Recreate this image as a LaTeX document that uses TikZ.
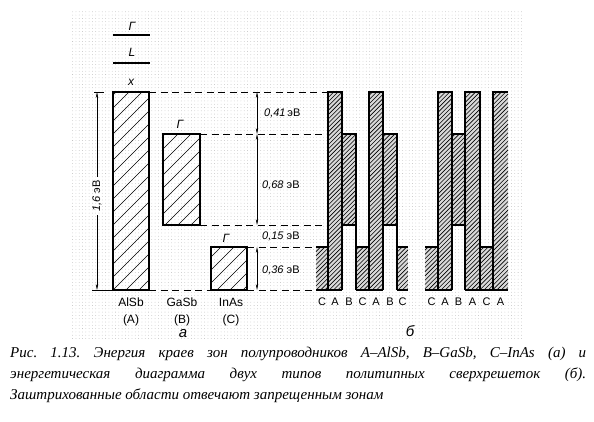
\documentclass[tikz,border=0pt]{standalone}
\usepackage{fontspec}
\setmainfont{Liberation Serif}
\setsansfont{Liberation Sans}
\usetikzlibrary{arrows.meta,patterns.meta}

% hatch a box {x1}{x2}{ytop}{ybottom}{step} with 45 degree strokes
\newcommand\hatchbox[5]{%
  \pgfmathsetmacro\hcs{ceil((#1+#3)/#5)*#5}%
  \pgfmathsetmacro\hcn{\hcs+#5}%
  \pgfmathsetmacro\hce{#2+#4}%
  \foreach \c in {\hcs,\hcn,...,\hce} {%
    \pgfmathsetmacro\hxa{max(#1,\c-#4)}%
    \pgfmathsetmacro\hxb{min(#2,\c-#3)}%
    \draw[hl] (\hxa,{\c-\hxa}) -- (\hxb,{\c-\hxb});
  }}

\begin{document}
\begin{tikzpicture}[x=1pt,y=-1pt,
    bar/.style={line width=1.5pt},
    hl/.style={line width=0.6pt},
    lv/.style={line width=1pt,dash pattern=on 7pt off 4.5pt},
    dm/.style={{Stealth[length=6pt,width=2.4pt]}-{Stealth[length=6pt,width=2.4pt]},line width=0.5pt},
    lb/.style={font=\sffamily\fontsize{11}{12}\selectfont,inner sep=0pt},
    gl/.style={lb,font=\sffamily\itshape\fontsize{12}{12}\selectfont},
    ev/.style={lb,anchor=west}]
  \useasboundingbox (0,0) rectangle (594,421);
  % dotted backdrop of the scan
  \fill[pattern={Dots[distance=3.3pt,radius=0.4pt]},pattern color=gray!55] (70,10) rectangle (523,338);

  % levels
  \draw[lv] (149,92) -- (328,92);
  \draw[lv] (200,134) -- (328,134);
  \draw[lv] (200,225) -- (328,225);
  \draw[lv] (247,247) -- (316,247);
  \draw[lv] (149,290) -- (211,290);
  \draw[lv] (247,290) -- (316,290);
  \draw[line width=0.9pt] (92,290) -- (113,290) (94,92) -- (104,92);

  % (a) band edges
  \hatchbox{113}{149}{92}{290}{13}
  \hatchbox{163}{200}{134}{225}{13}
  \hatchbox{211}{247}{247}{290}{13}
  \draw[bar] (113,92) rectangle (149,290);
  \draw[bar] (163,134) rectangle (200,225);
  \draw[bar] (211,247) rectangle (247,290);

  \draw[line width=1.2pt] (113,35) -- (150,35) (113,63) -- (150,63);
  \node[gl] (gA) at (132,26) {Γ};
  \node[gl] (lA) at (132,52) {L};
  \node[gl] (xA) at (131,82) {x};
  \node[gl] (gB) at (180,124) {Γ};
  \node[gl] (gC) at (226,238) {Γ};

  % 1,6 eV
  \coordinate (p16t) at (97,92);
  \coordinate (p16b) at (97,290);
  \node[lb,rotate=90,inner sep=3pt] (l16) at (97,196) {{\itshape 1,6} эВ};
  \draw[-{Stealth[length=6pt,width=2.4pt]},line width=0.5pt] (l16.east) -- (p16t);
  \draw[-{Stealth[length=6pt,width=2.4pt]},line width=0.5pt] (l16.west) -- (p16b);

  % right dimensions
  \coordinate (r0) at (257,92);
  \coordinate (r1) at (257,134);
  \coordinate (r2) at (257,225);
  \coordinate (r3) at (257,247);
  \coordinate (r4) at (257,290);
  \draw[dm] (r0) -- (r1);
  \draw[dm] (r1) -- (r2);
  \draw[dm] (r3) -- (r4);
  \node[ev] (e41) at (264,113) {{\itshape 0,41}\,эВ};
  \node[ev] (e68) at (262,185) {{\itshape 0,68} эВ};
  \node[ev] (e15) at (262,236) {{\itshape 0,15} эВ};
  \node[ev] (e36) at (262,270) {{\itshape 0,36} эВ};

  \foreach \x/\t/\n in {131/AlSb/A,182/GaSb/B,231/InAs/C} {
    \node[lb,font=\sffamily\fontsize{12}{12}\selectfont] (m\n) at (\x,302) {\t};
    \node[lb,font=\sffamily\fontsize{12}{12}\selectfont] (k\n) at (\x,320) {(\n)};
  }
  \node[lb,font=\sffamily\itshape\fontsize{15}{15}\selectfont] (pa) at (183,334) {а};

  % (b) superlattices CABCABC and CABACA
  \foreach \xa/\xb/\yt/\yb in {316/328/247/290,328/342/92/290,342/356/134/225,356/369/247/290,
      369/383/92/290,383/397/134/225,397/408/247/290,425/438/247/290,438/452/92/290,
      452/465/134/225,465/480/92/290,480/493/247/290,493/508/92/290}
    {\fill[white!85!black] (\xa,\yt) rectangle (\xb,\yb);
     \hatchbox{\xa}{\xb}{\yt}{\yb}{4.3}}

  \draw[bar] (316,247) -- (328,247) (356,247) -- (369,247) (397,247) -- (408,247);
  \draw[bar] (316,290) -- (342,290) (356,290) -- (383,290) (397,290) -- (408,290);
  \draw[bar] (328,290) -- (328,92) -- (342,92) -- (342,290);
  \draw[bar] (342,134) -- (356,134) -- (356,290) (342,225) -- (356,225);
  \draw[bar] (369,290) -- (369,92) -- (383,92) -- (383,290);
  \draw[bar] (383,134) -- (397,134) -- (397,290) (383,225) -- (397,225);

  \draw[bar] (425,247) -- (438,247) (480,247) -- (493,247);
  \draw[bar] (438,290) -- (438,92) -- (452,92) -- (452,290);
  \draw[bar] (452,134) -- (465,134) (452,225) -- (465,225);
  \draw[bar] (465,290) -- (465,92) -- (480,92) -- (480,290);
  \draw[bar] (493,290) -- (493,92) -- (508,92);
  \draw[bar] (425,290) -- (452,290) (465,290) -- (508,290);

  \foreach \x/\t [count=\i] in {322/C,335/A,349/B,362.5/C,376/A,390/B,402.5/C,
                                431.5/C,445/A,458.5/B,472.5/A,486.5/C,500.5/A}
    \node[lb] (s\i) at (\x,302) {\t};
  \node[lb,font=\sffamily\itshape\fontsize{15}{15}\selectfont] (pb) at (410,331) {б};

  % caption
  \node[anchor=north west,inner sep=0pt,text width=576pt,align=justify,
        font=\itshape\fontsize{15}{20.8}\selectfont] (cap) at (10,347)
    {\frenchspacing Рис. 1.13. Энергия краев зон полупроводников A–AlSb, B–GaSb, C–InAs (а)~и\linebreak
     энергетическая диаграмма двух типов политипных сверхрешеток (б).\linebreak
     Заштрихованные области отвечают запрещенным зонам};
\end{tikzpicture}
\end{document}
